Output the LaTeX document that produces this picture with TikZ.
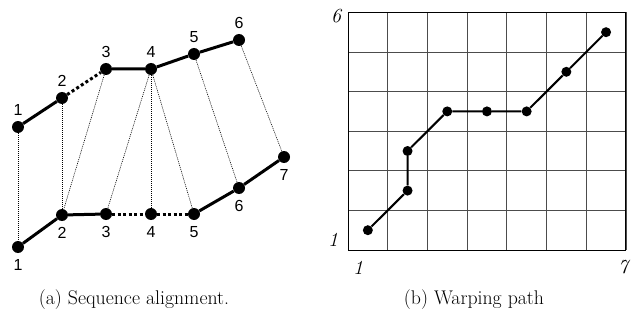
\documentclass[tikz,border=0pt]{standalone}
\usepackage{fontspec}
\newfontfamily\labelfont{Liberation Sans}
\usetikzlibrary{positioning}

\begin{document}
\begin{tikzpicture}[
    x=1pt, y=-1pt,
    seqdot/.style={circle, fill=black, inner sep=0pt, minimum size=12pt},
    pathdot/.style={circle, fill=black, inner sep=0pt, minimum size=10pt},
    every label/.style={font=\labelfont\fontsize{16}{18}\selectfont, inner sep=1pt},
    up/.style={label={[label distance=4pt]above:#1}},
    dn/.style={label={[label distance=5pt]below:#1}},
    link/.style={line width=3pt},
    gap/.style={line width=3pt, dash pattern=on 3pt off 2.5pt},
    match/.style={line width=0.6pt, dash pattern=on 1pt off 1pt},
    gridline/.style={black!70, line width=0.8pt},
    axislabel/.style={font=\fontsize{20}{22}\selectfont\itshape},
    caption/.style={font=\fontsize{19.8}{22}\selectfont}
]
\useasboundingbox (0,0) rectangle (631,326);

% (a) sequence alignment
\node (t1) [seqdot, up=1] at (18,127) {};
\node (t2) [seqdot, up=2] at (62,98) {};
\node (t3) [seqdot, up=3] at (106,69) {};
\node (t4) [seqdot, up=4] at (151,69) {};
\node (t5) [seqdot, up=5] at (194,54) {};
\node (t6) [seqdot, up=6] at (239,40) {};

\node (b1) [seqdot, dn=1] at (18,247) {};
\node (b2) [seqdot, dn=2] at (62,215) {};
\node (b3) [seqdot, dn=3] at (106,214) {};
\node (b4) [seqdot, dn=4] at (151,214) {};
\node (b5) [seqdot, dn=5] at (194,214) {};
\node (b6) [seqdot, dn=6] at (239,188) {};
\node (b7) [seqdot, dn=7] at (284,157) {};

\draw [link] (t1) -- (t2);
\draw [gap] (t2) -- (t3);
\draw [link] (t3) -- (t4) -- (t5) -- (t6);
\draw [link] (b1) -- (b2) -- (b3);
\draw [gap] (b3) -- (b4) -- (b5);
\draw [link] (b5) -- (b6) -- (b7);

\draw [match] (t1) -- (b1);
\draw [match] (t2) -- (b2);
\draw [match] (t3) -- (b2);
\draw [match] (t4) -- (b3);
\draw [match] (t4) -- (b4);
\draw [match] (t4) -- (b5);
\draw [match] (t5) -- (b6);
\draw [match] (t6) -- (b7);

% (b) warping path
\begin{scope}[shift={(348,250)}, x=39.7pt, y=39.6pt]
  \draw [gridline, step={(1,1)}] (0,0) grid (7,6);
  \draw [black, line width=1pt] (0,0) rectangle (7,6);
  \node (p1) [pathdot] at (0.5,0.5) {};
  \node (p2) [pathdot] at (1.5,1.5) {};
  \node (p3) [pathdot] at (1.5,2.5) {};
  \node (p4) [pathdot] at (2.5,3.5) {};
  \node (p5) [pathdot] at (3.5,3.5) {};
  \node (p6) [pathdot] at (4.5,3.5) {};
  \node (p7) [pathdot] at (5.5,4.5) {};
  \node (p8) [pathdot] at (6.5,5.5) {};
  \draw [line width=2pt] (p1) -- (p2) -- (p3) -- (p4) -- (p5) -- (p6) -- (p7) -- (p8);
\end{scope}

\node (ytop) [axislabel] at (336,16) {6};
\node (ybot) [axislabel] at (333,240) {1};
\node (xleft) [axislabel] at (358,268) {1};
\node (xright) [axislabel] at (623,267) {7};

\node (capa) [caption] at (134,300) {(a) Sequence alignment.};
\node (capb) [caption] at (474,300) {(b) Warping path};
\end{tikzpicture}
\end{document}
